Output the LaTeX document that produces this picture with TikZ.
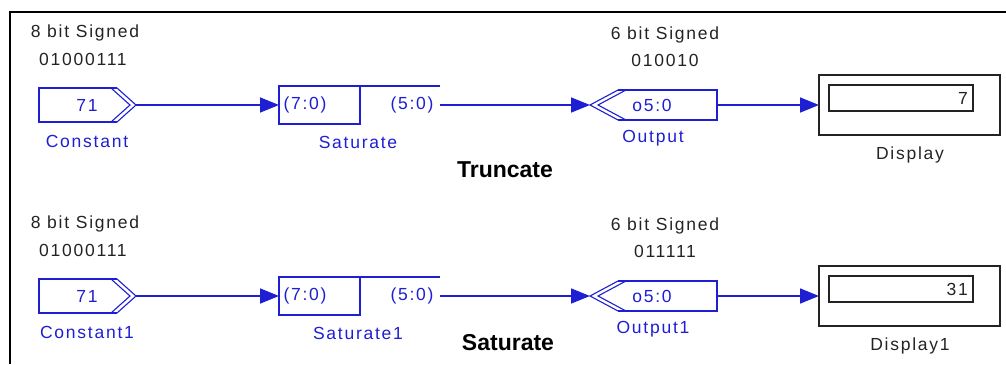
\documentclass[tikz,border=0pt]{standalone}
\usepackage{fontspec}
\setmainfont{Liberation Sans}
\newfontfamily\lblfont[LetterSpace=10]{Liberation Sans}
\usetikzlibrary{arrows.meta}
\definecolor{sblue}{RGB}{30,30,210}
\definecolor{ink}{RGB}{35,35,35}
\begin{document}
\begin{tikzpicture}[x=1pt,y=-1pt,
  blk/.style={draw=none,inner sep=0pt,outer sep=0pt},
  bl/.style={draw=sblue,line width=1.6pt},
  blthin/.style={draw=sblue,line width=1.1pt},
  conn/.style={draw=sblue,line width=1.6pt,-{Triangle[length=19pt,width=15pt]}},
  lbl/.style={font=\lblfont\fontsize{17.5}{20}\selectfont,text=sblue,inner sep=0pt},
  txt/.style={font=\lblfont\fontsize{17.5}{20}\selectfont,text=ink,inner sep=0pt},
  big/.style={font=\bfseries\fontsize{23}{26}\selectfont,text=black,inner sep=0pt},
  dbox/.style={draw=ink,line width=1.6pt}]
\useasboundingbox (0,0) rectangle (1006,364);
\draw[line width=2.5pt,black] (10,364) -- (10,12) -- (1006,12);
\foreach \r/\dy/\cn/\sn/\on/\dn/\val/\bin in {1/0/Constant/Saturate/Output/Display/7/010010,2/191/Constant1/Saturate1/Output1/Display1/31/011111}{
\begin{scope}[yshift=-\dy pt]
  % header texts
  \node[txt] (h8\r) at (85,33) {8 bit Signed};
  \node[txt] (b8\r) at (83,59) {01000111};
  \node[txt] (h6\r) at (665,35) {6 bit Signed};
  \node[txt] (b6\r) at (665,60) {\bin};
  % Constant block
  \node[blk,minimum width=97pt,minimum height=34pt] (c\r) at (87.5,105) {};
  \draw[bl] (117,88) -- (39,88) -- (39,122) -- (117,122);
  \draw[blthin] (117,88) -- (136,105) -- (117,122);
  \draw[blthin] (111,88) -- (130,105) -- (111,122);
  \node[lbl] (cv\r) at (87,105) {71};
  \node[lbl] (cl\r) at (87,141) {\cn};
  % Saturate block
  \node[blk,draw=sblue,line width=1.6pt,minimum width=81pt,minimum height=38pt] (s\r) at (319.5,105) {};
  \draw[bl] (s\r.north east) -- (440,86);
  \node[lbl] (si\r) at (305,105) {(7:0)};
  \node[lbl] (sx\r) at (412,105) {(5:0)};
  \coordinate (so\r) at (440,105);
  \node[lbl] (sl\r) at (358,142) {\sn};
  % Output block
  \node[blk,minimum width=127pt,minimum height=30pt] (o\r) at (653.5,105) {};
  \draw[bl] (618,90) -- (717,90) -- (717,120) -- (618,120);
  \draw[blthin] (618,90) -- (590,105) -- (618,120);
  \draw[blthin] (626,90) -- (598,105) -- (626,120);
  \node[lbl] (ov\r) at (652,105) {o5:0};
  \node[lbl] (ol\r) at (653,138) {\on};
  % Display block
  \node[blk,draw=ink,line width=1.6pt,minimum width=181pt,minimum height=60pt] (d\r) at (909.5,105) {};
  \draw[dbox] (829,85) rectangle (973,111);
  \node[txt,anchor=east] (dv\r) at (968,98) {\val};
  \node[txt] (dl\r) at (910,155) {\dn};
  % connectors
  \draw[conn] (c\r.east) -- (s\r.west);
  \draw[conn] (so\r) -- (o\r.west);
  \draw[conn] (o\r.east) -- (d\r.west);
\end{scope}
}
\node[big] (trunc) at (505,170) {Truncate};
\node[big] (satur) at (508,343) {Saturate};
\end{tikzpicture}
\end{document}
